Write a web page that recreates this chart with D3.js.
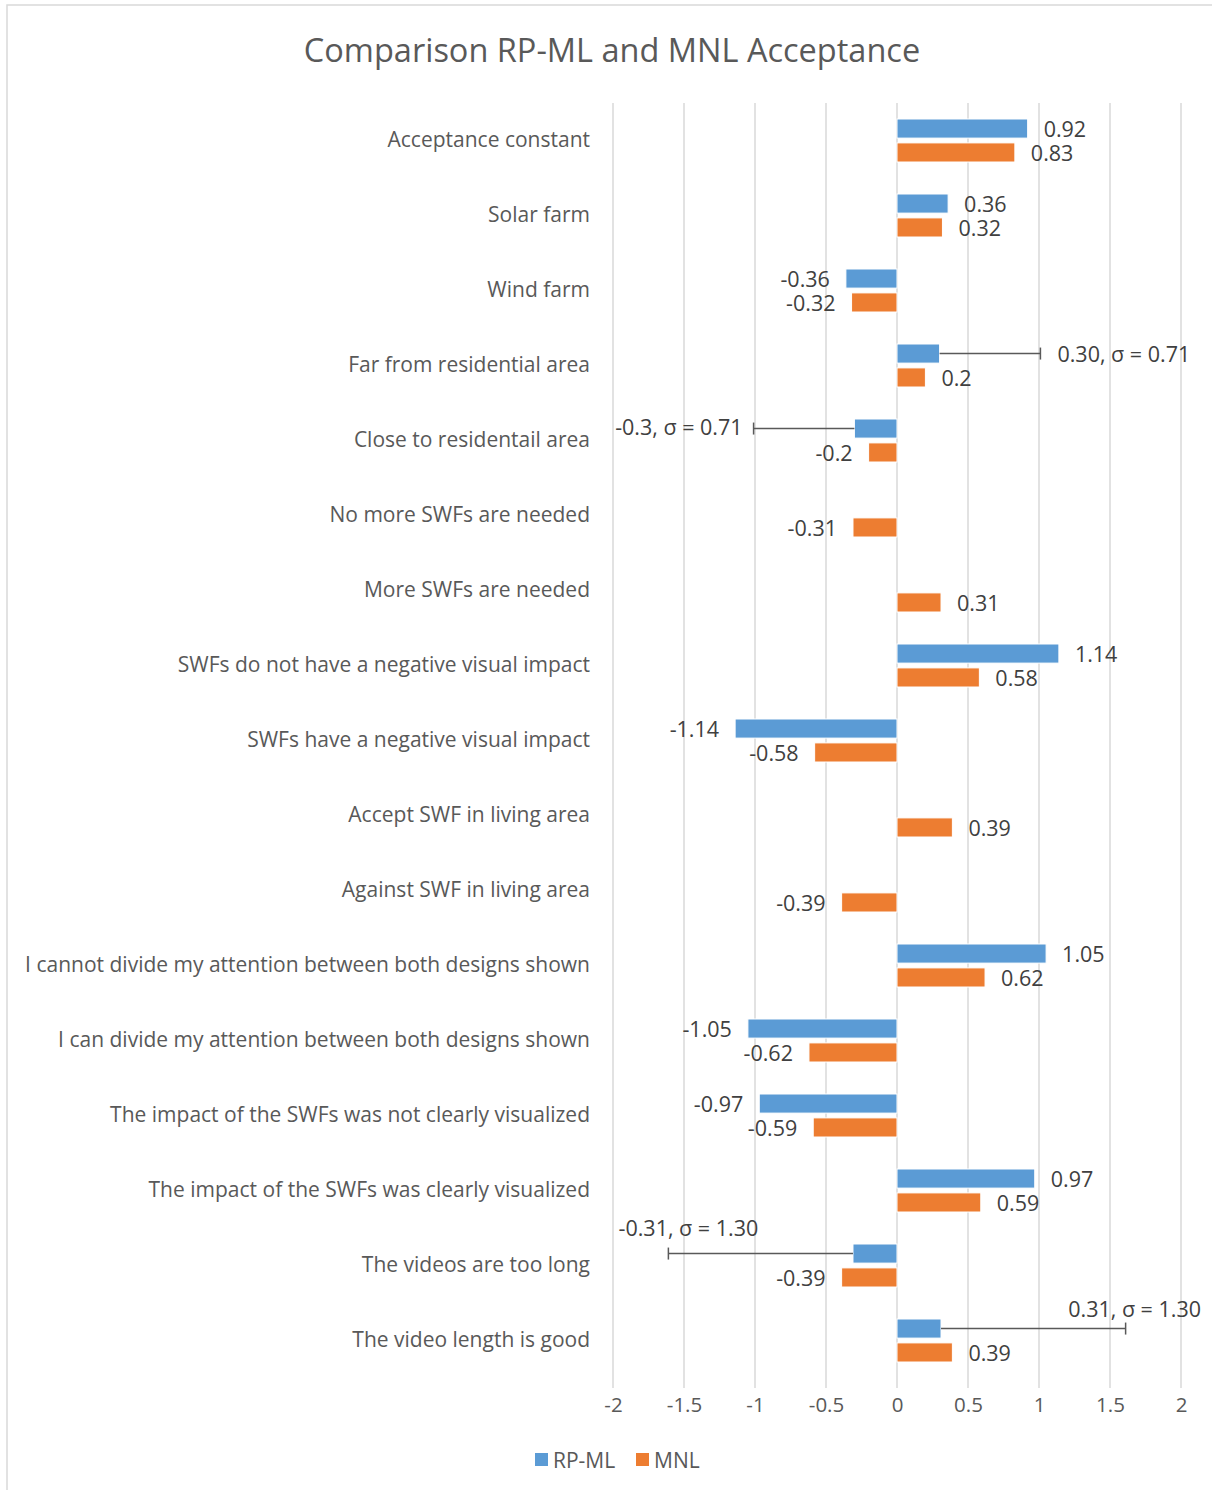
<!DOCTYPE html>
<html>
<head>
<meta charset="utf-8">
<script src="https://cdn.jsdelivr.net/npm/d3@7"></script>
<style>
  body { margin: 0; background: #fff; }
  text { font-family: "Open Sans", "Noto Sans", sans-serif; }
</style>
</head>
<body>
<div class="canvas"></div>
<script>
const categories = [
  "Acceptance constant",
  "Solar farm",
  "Wind farm",
  "Far from residential area",
  "Close to residentail area",
  "No more SWFs are needed",
  "More SWFs are needed",
  "SWFs do not have a negative visual impact",
  "SWFs have a negative visual impact",
  "Accept SWF in living area",
  "Against SWF in living area",
  "I cannot divide my attention between both designs shown",
  "I can divide my attention between both designs shown",
  "The impact of the SWFs was not clearly visualized",
  "The impact of the SWFs was clearly visualized",
  "The videos are too long",
  "The video length is good"
];
const rpml = [0.92, 0.36, -0.36, 0.30, -0.3, null, null, 1.14, -1.14, null, null, 1.05, -1.05, -0.97, 0.97, -0.31, 0.31];
const mnl  = [0.83, 0.32, -0.32, 0.2, -0.2, -0.31, 0.31, 0.58, -0.58, 0.39, -0.39, 0.62, -0.62, -0.59, 0.59, -0.39, 0.39];
const rpmlSigma = [null, null, null, 0.71, 0.71, null, null, null, null, null, null, null, null, null, null, 1.30, 1.30];
const rpmlSigmaLabels = [null, null, null, "0.30, σ = 0.71", "-0.3, σ = 0.71", null, null, null, null, null, null, null, null, null, null, "-0.31, σ = 1.30", "0.31, σ = 1.30"];
const series = ["RP-ML", "MNL"];
const xTicks = [-2, -1.5, -1, -0.5, 0, 0.5, 1, 1.5, 2];
const title = "Comparison RP-ML and MNL Acceptance";

const colors = {"RP-ML": "#5b9bd5", "MNL": "#ed7d31"};

const width = 1212, height = 1490;
const plot = {left: 613, right: 1181, top: 103, bottom: 1378};

const svg = d3.select(".canvas")
  .append('svg')
  .attr('width', width)
  .attr('height', height);

// outer chart border
svg.append('rect')
  .attr('x', 7).attr('y', 5)
  .attr('width', 1212).attr('height', 1492)
  .attr('fill', 'none')
  .attr('stroke', '#d9d9d9')
  .attr('stroke-width', 1.5);

svg.append('text')
  .attr('x', 612).attr('y', 49)
  .attr('text-anchor', 'middle')
  .attr('dominant-baseline', 'central')
  .attr('font-size', 32.5)
  .attr('fill', '#595959')
  .text(title);

const x = d3.scaleLinear()
  .domain([-2, 2])
  .range([plot.left, plot.right]);

const y = d3.scaleBand()
  .domain(categories)
  .range([plot.top, plot.bottom]);

const sub = d3.scaleBand()
  .domain(series)
  .range([16, y.bandwidth() - 16])
  .paddingInner(0.2);

// gridlines
svg.append('g')
  .selectAll('line')
  .data(xTicks)
  .enter()
  .append('line')
  .attr('x1', d => x(d)).attr('x2', d => x(d))
  .attr('y1', plot.top).attr('y2', plot.bottom + 10)
  .attr('stroke', '#d9d9d9')
  .attr('stroke-width', 1.5);

// x axis tick labels
const xAxis = d3.axisBottom(x).tickValues(xTicks).tickSize(0).tickPadding(0).tickFormat(d => String(d));
const xg = svg.append('g')
  .attr('transform', `translate(0,${plot.bottom + 19})`)
  .call(xAxis);
xg.select('.domain').remove();
xg.selectAll('text')
  .attr('font-size', 20.5)
  .attr('fill', '#595959')
  .style('font-family', '"Open Sans", sans-serif');

// category labels
const yAxis = d3.axisLeft(y).tickSize(0).tickPadding(0);
const yg = svg.append('g')
  .attr('transform', `translate(${plot.left - 23},0)`)
  .call(yAxis);
yg.select('.domain').remove();
yg.selectAll('text')
  .attr('font-size', 21)
  .attr('fill', '#595959')
  .style('font-family', '"Open Sans", sans-serif');

const rows = [];
categories.forEach((c, i) => {
  if (rpml[i] !== null) rows.push({cat: c, s: "RP-ML", v: rpml[i], sd: rpmlSigma[i], lab: rpmlSigmaLabels[i], i: i});
  if (mnl[i] !== null) rows.push({cat: c, s: "MNL", v: mnl[i], sd: null, lab: null, i: i});
});

const barY = d => y(d.cat) + sub(d.s);
const barMid = d => barY(d) + sub.bandwidth() / 2;

svg.append('g')
  .selectAll('rect')
  .data(rows)
  .enter()
  .append('rect')
  .attr('x', d => Math.min(x(0), x(d.v)))
  .attr('y', barY)
  .attr('width', d => Math.abs(x(d.v) - x(0)))
  .attr('height', sub.bandwidth())
  .attr('fill', d => colors[d.s])
  .attr('stroke', '#fff')
  .attr('stroke-width', 1);

// error bars (plus direction only)
const errRows = rows.filter(d => d.sd !== null);
const errEnd = d => x(d.v + Math.sign(d.v) * d.sd);
const eb = svg.append('g');
eb.selectAll('line.err')
  .data(errRows)
  .enter()
  .append('line')
  .attr('class', 'err')
  .attr('x1', d => x(d.v)).attr('x2', errEnd)
  .attr('y1', barMid).attr('y2', barMid)
  .attr('stroke', '#595959')
  .attr('stroke-width', 1.5);
eb.selectAll('line.cap')
  .data(errRows)
  .enter()
  .append('line')
  .attr('class', 'cap')
  .attr('x1', errEnd).attr('x2', errEnd)
  .attr('y1', d => barMid(d) - 6).attr('y2', d => barMid(d) + 6)
  .attr('stroke', '#595959')
  .attr('stroke-width', 1.5);

// label placement for the sigma labels (by category index)
const sigmaPlace = {
  3:  {dx: 17,  dy: 0,   anchor: 'start'},
  4:  {dx: -11, dy: -2,  anchor: 'end'},
  15: {dx: 20,  dy: -26, anchor: 'middle'},
  16: {dx: 9,   dy: -20, anchor: 'middle'}
};

svg.append('g')
  .selectAll('text')
  .data(rows)
  .enter()
  .append('text')
  .attr('x', d => {
    if (d.lab) return errEnd(d) + sigmaPlace[d.i].dx;
    return x(d.v) + (d.v >= 0 ? 16 : -16);
  })
  .attr('y', d => barMid(d) + (d.lab ? sigmaPlace[d.i].dy : 0))
  .attr('text-anchor', d => d.lab ? sigmaPlace[d.i].anchor : (d.v >= 0 ? 'start' : 'end'))
  .attr('dominant-baseline', 'central')
  .attr('font-size', 21.5)
  .attr('fill', '#404040')
  .text(d => d.lab ? d.lab : String(d.v));

// legend
const legend = svg.append('g').attr('transform', 'translate(535,1460)');
const items = legend.selectAll('g')
  .data(series)
  .enter()
  .append('g')
  .attr('transform', (d, i) => `translate(${i * 101},0)`);
items.append('rect')
  .attr('x', 0).attr('y', -7)
  .attr('width', 13).attr('height', 13)
  .attr('fill', d => colors[d]);
items.append('text')
  .attr('x', 18).attr('y', 0)
  .attr('dominant-baseline', 'central')
  .attr('font-size', 21)
  .attr('fill', '#595959')
  .text(d => d);
</script>
</body>
</html>
